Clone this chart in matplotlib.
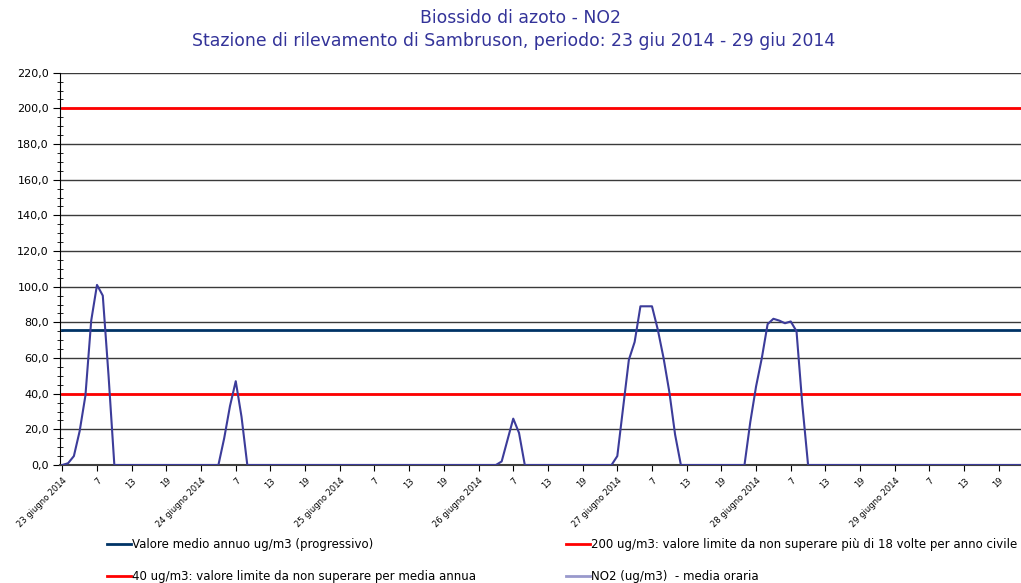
import numpy as np
import matplotlib
matplotlib.use("Agg")
import matplotlib.pyplot as plt
from matplotlib.lines import Line2D
from matplotlib.ticker import MultipleLocator, FuncFormatter

# Dati orari NO2 (ug/m3), 24 valori per giorno, ore 1..24
giorni = [23, 24, 25, 26, 27, 28, 29]
no2_23 = [0, 1, 5, 19, 39, 81, 101, 95, 50, 0, 0, 0, 0, 0, 0, 0, 0, 0, 0, 0, 0, 0, 0, 0]
no2_24 = [0, 0, 0, 0, 15, 33, 47, 27, 0, 0, 0, 0, 0, 0, 0, 0, 0, 0, 0, 0, 0, 0, 0, 0]
no2_25 = [0, 0, 0, 0, 0, 0, 0, 0, 0, 0, 0, 0, 0, 0, 0, 0, 0, 0, 0, 0, 0, 0, 0, 0]
no2_26 = [0, 0, 0, 0, 2, 14, 26, 18, 0, 0, 0, 0, 0, 0, 0, 0, 0, 0, 0, 0, 0, 0, 0, 0]
no2_27 = [5, 32, 59, 69, 89, 89, 89, 76, 60, 41, 17, 0, 0, 0, 0, 0, 0, 0, 0, 0, 0, 0, 0, 24]
no2_28 = [44, 60, 79, 82, 81, 79.5, 80.5, 75, 34, 0, 0, 0, 0, 0, 0, 0, 0, 0, 0, 0, 0, 0, 0, 0]
no2_29 = [0, 0, 0, 0, 0, 0, 0, 0, 0, 0, 0, 0, 0, 0, 0, 0, 0, 0, 0, 0, 0, 0, 0, 0]

media_annua = 75.6     # valore medio annuo progressivo
limite_orario = 200    # 200 ug/m3, max 18 superamenti
limite_annuo = 40      # 40 ug/m3, media annua

ore_etichette = ["7", "13", "19"]

no2 = no2_23 + no2_24 + no2_25 + no2_26 + no2_27 + no2_28 + no2_29
ore = np.arange(len(no2))

fig = plt.figure(figsize=(10.21, 5.83), dpi=100)
ax = fig.add_axes([60 / 1021, 1 - 465 / 583, 1 - 60 / 1021, (465 - 72.7) / 583])

col_titolo = "#333399"
col_no2 = "#3c3c9a"
col_media = "#003366"
col_rosso = "#ff0000"

# griglia orizzontale
for v in range(20, 221, 20):
    ax.axhline(v, color="#3a3a3a", lw=1.0, zorder=1)

ax.plot(ore, np.full(len(ore), limite_orario), color=col_rosso, lw=2, zorder=2)
ax.plot(ore, np.full(len(ore), limite_annuo), color=col_rosso, lw=2, zorder=2)
ax.plot(ore, np.full(len(ore), media_annua), color=col_media, lw=2, zorder=3)
ax.plot(ore, no2, color=col_no2, lw=1.5, zorder=4)

ax.set_ylim(0, 220)
ax.set_xlim(-0.4, (1021 - 62.5) / 5.78)

ax.yaxis.set_major_locator(MultipleLocator(20))
ax.yaxis.set_minor_locator(MultipleLocator(5))
ax.yaxis.set_major_formatter(FuncFormatter(lambda v, p: f"{v:.1f}".replace(".", ",")))
ax.tick_params(axis="y", which="major", direction="out", length=5, labelsize=8, pad=3)
ax.tick_params(axis="y", which="minor", direction="inout", length=4)

# tick orari ogni 6 ore, etichetta del giorno alla prima ora
pos = []
lab = []
for i, g in enumerate(giorni):
    pos.append(i * 24)
    lab.append(f"{g} giugno 2014")
    for j, e in enumerate(ore_etichette):
        pos.append(i * 24 + 6 * (j + 1))
        lab.append(e)
ax.set_xticks(pos)
ax.set_xticklabels(lab, rotation=45, ha="right", va="top", rotation_mode="anchor", fontsize=6)
ax.tick_params(axis="x", direction="out", length=4, pad=4)

ax.spines["top"].set_visible(False)
ax.spines["right"].set_visible(False)
ax.spines["left"].set_color("black")
ax.spines["bottom"].set_color("#404040")
ax.spines["bottom"].set_linewidth(1.5)

fig.text(520 / 1021, 1 - 18 / 583, "Biossido di azoto - NO2", ha="center", va="center",
         fontsize=12.4, color=col_titolo)
fig.text(514 / 1021, 1 - 41 / 583,
         "Stazione di rilevamento di Sambruson, periodo: 23 giu 2014 - 29 giu 2014",
         ha="center", va="center", fontsize=12.4, color=col_titolo)

# legenda su due colonne
h1 = [Line2D([], [], color=col_media, lw=2), Line2D([], [], color=col_rosso, lw=2)]
l1 = ["Valore medio annuo ug/m3 (progressivo)",
      "40 ug/m3: valore limite da non superare per media annua"]
h2 = [Line2D([], [], color=col_rosso, lw=2), Line2D([], [], color="#9999cc", lw=2)]
l2 = ["200 ug/m3: valore limite da non superare più di 18 volte per anno civile",
      "NO2 (ug/m3)  - media oraria"]
for h, l, x0 in [(h1, l1, 107), (h2, l2, 566)]:
    fig.legend(h, l, loc="upper left", bbox_to_anchor=(x0 / 1021, 1 - 538 / 583),
               frameon=False, fontsize=8.5, handlelength=2.0, handletextpad=0.15,
               labelspacing=1.6, borderpad=0, borderaxespad=0)

fig.savefig("out.png", dpi=100)
